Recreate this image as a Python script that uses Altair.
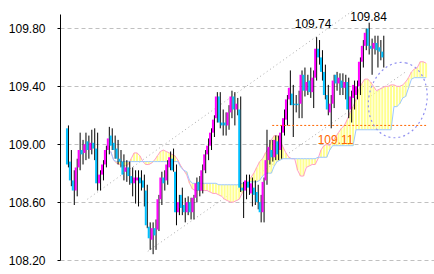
import altair as alt
import pandas as pd

# ---- candle data (index, OHLC) ----
opens = [109.11, 108.88, 108.75, 108.68, 108.84, 108.96, 108.94, 109.02, 108.96, 109.01,
         108.97, 108.73, 108.79, 108.86, 108.96, 109.06, 109.01, 108.97, 108.90, 108.88,
         108.81, 108.84, 108.78, 108.73, 108.75, 108.77, 108.75, 108.68, 108.43, 108.34,
         108.42, 108.41, 108.62, 108.77, 108.75, 108.84, 108.90, 108.81, 108.53, 108.65,
         108.58, 108.53, 108.60, 108.53, 108.63, 108.74, 108.68, 108.82, 108.93, 108.99,
         109.08, 109.18, 109.33, 109.15, 109.15, 109.13, 109.22, 109.33, 109.24, 109.24,
         108.70, 108.68, 108.74, 108.66, 108.70, 108.67, 108.60, 108.53, 108.75, 108.89,
         108.96, 108.91, 109.02, 108.96, 109.08, 109.17, 109.31, 109.35, 109.28, 109.28,
         109.28, 109.48, 109.37, 109.44, 109.36, 109.46, 109.66, 109.60, 109.50, 109.34,
         109.22, 109.28, 109.48, 109.42, 109.44, 109.39, 109.43, 109.24, 109.32, 109.34,
         109.40, 109.57, 109.68, 109.80, 109.68, 109.66, 109.70, 109.67, 109.64]
highs = [109.13, 108.96, 108.82, 108.90, 109.08, 109.03, 109.08, 109.06, 109.10, 109.11,
         109.08, 108.82, 108.89, 108.99, 109.12, 109.11, 109.06, 109.03, 108.96, 108.93,
         108.89, 108.88, 108.84, 108.82, 108.82, 108.82, 108.79, 108.72, 108.46, 108.46,
         108.48, 108.65, 108.81, 108.82, 108.89, 108.95, 108.97, 108.86, 108.65, 108.70,
         108.63, 108.64, 108.63, 108.65, 108.77, 108.78, 108.86, 108.96, 109.04, 109.11,
         109.20, 109.36, 109.36, 109.24, 109.22, 109.27, 109.37, 109.36, 109.32, 109.33,
         108.74, 108.79, 108.79, 108.77, 108.75, 108.72, 108.65, 108.77, 109.10, 109.03,
         109.03, 109.06, 109.06, 109.13, 109.24, 109.34, 109.51, 109.41, 109.34, 109.37,
         109.51, 109.53, 109.48, 109.53, 109.51, 109.74, 109.72, 109.65, 109.55, 109.41,
         109.34, 109.48, 109.50, 109.49, 109.49, 109.48, 109.46, 109.37, 109.44, 109.44,
         109.60, 109.72, 109.80, 109.84, 109.73, 109.75, 109.75, 109.72, 109.75]
lows = [108.84, 108.71, 108.58, 108.64, 108.82, 108.86, 108.89, 108.90, 108.93, 108.89,
        108.68, 108.68, 108.75, 108.84, 108.93, 108.96, 108.90, 108.86, 108.84, 108.75,
        108.74, 108.72, 108.64, 108.59, 108.57, 108.68, 108.57, 108.42, 108.27, 108.24,
        108.27, 108.40, 108.58, 108.68, 108.72, 108.82, 108.81, 108.44, 108.51, 108.51,
        108.46, 108.51, 108.48, 108.48, 108.60, 108.64, 108.66, 108.80, 108.89, 108.96,
        109.05, 109.15, 109.11, 109.06, 109.06, 109.10, 109.18, 109.13, 109.20, 108.67,
        108.49, 108.62, 108.65, 108.57, 108.58, 108.55, 108.46, 108.46, 108.72, 108.86,
        108.88, 108.89, 108.89, 108.90, 109.06, 109.13, 109.27, 109.05, 109.22, 109.18,
        109.18, 109.33, 109.34, 109.32, 109.25, 109.44, 109.55, 109.44, 109.31, 109.20,
        109.11, 109.25, 109.37, 109.34, 109.34, 109.31, 109.18, 109.15, 109.24, 109.31,
        109.34, 109.53, 109.65, 109.62, 109.48, 109.62, 109.53, 109.58, 109.53]
closes = [108.86, 108.75, 108.68, 108.84, 108.96, 108.93, 109.00, 108.96, 109.01, 108.97,
          108.73, 108.79, 108.86, 108.96, 109.04, 108.99, 108.96, 108.90, 108.88, 108.79,
          108.84, 108.78, 108.73, 108.77, 108.77, 108.73, 108.70, 108.44, 108.35, 108.42,
          108.37, 108.62, 108.77, 108.73, 108.86, 108.91, 108.82, 108.53, 108.60, 108.56,
          108.53, 108.60, 108.53, 108.63, 108.73, 108.68, 108.82, 108.93, 108.99, 109.08,
          109.17, 109.33, 109.15, 109.13, 109.13, 109.22, 109.33, 109.24, 109.28, 108.70,
          108.68, 108.75, 108.70, 108.73, 108.65, 108.60, 108.53, 108.74, 108.89, 108.98,
          108.91, 109.03, 108.93, 109.08, 109.18, 109.31, 109.39, 109.27, 109.27, 109.27,
          109.48, 109.37, 109.43, 109.36, 109.46, 109.66, 109.60, 109.50, 109.34, 109.24,
          109.28, 109.44, 109.42, 109.46, 109.39, 109.43, 109.24, 109.33, 109.41, 109.40,
          109.57, 109.68, 109.77, 109.68, 109.66, 109.70, 109.65, 109.64, 109.60]

# ---- cloud (span A pink, span B blue), index 15..123 ----
cloud_start = 15
span_a = [108.95, 108.89, 108.87, 108.86, 108.85, 108.85, 108.86, 108.90, 108.94, 108.94,
          108.92, 108.88, 108.86, 108.86, 108.87, 108.89, 108.92, 108.95, 108.96, 108.95,
          108.94, 108.93, 108.92, 108.89, 108.85, 108.82, 108.79, 108.73, 108.69, 108.68,
          108.68, 108.68, 108.68, 108.68, 108.67, 108.66, 108.66, 108.65, 108.64, 108.62,
          108.61, 108.60, 108.60, 108.61, 108.62, 108.66, 108.70, 108.74, 108.77, 108.80,
          108.84, 108.88, 108.90, 108.94, 108.97, 109.03, 109.06, 109.06, 109.03, 108.98,
          108.94, 108.91, 108.90, 108.90, 108.82, 108.78, 108.78, 108.84, 108.85, 108.86,
          108.86, 108.90, 108.96, 108.99, 109.00, 108.99, 109.02, 109.05, 109.08, 109.11,
          109.13, 109.17, 109.22, 109.26, 109.31, 109.38, 109.42, 109.45, 109.45, 109.43,
          109.40, 109.37, 109.38, 109.39, 109.40, 109.40, 109.41, 109.41, 109.40, 109.40,
          109.41, 109.43, 109.46, 109.50, 109.52, 109.53, 109.57, 109.57, 109.56]
span_b = [108.95, 108.89, 108.88, 108.88, 108.88, 108.88, 108.88, 108.88, 108.88, 108.88,
          108.88, 108.88, 108.88, 108.88, 108.88, 108.88, 108.88, 108.88, 108.88, 108.88,
          108.88, 108.88, 108.88, 108.88, 108.84, 108.82, 108.81, 108.75, 108.73, 108.73,
          108.73, 108.73, 108.73, 108.73, 108.73, 108.73, 108.73, 108.72, 108.72, 108.72,
          108.72, 108.72, 108.72, 108.72, 108.72, 108.73, 108.73, 108.74, 108.74, 108.74,
          108.74, 108.75, 108.78, 108.80, 108.80, 108.80, 108.85, 108.88, 108.89, 108.90,
          108.90, 108.90, 108.90, 108.90, 108.90, 108.90, 108.90, 108.90, 108.90, 108.90,
          108.90, 108.91, 108.91, 108.91, 108.91, 108.96, 108.99, 108.99, 108.99, 108.99,
          108.99, 108.99, 108.99, 108.99, 109.10, 109.10, 109.10, 109.10, 109.10, 109.10,
          109.10, 109.10, 109.10, 109.10, 109.10, 109.10, 109.10, 109.26, 109.26, 109.28,
          109.32, 109.33, 109.39, 109.45, 109.46, 109.46, 109.46, 109.46, 109.46]

# ---- annotations ----
trend_names = ["upper", "upper", "lower", "lower"]
trend_i = [7.0, 97.7, 27.7, 116.0]
trend_p = [108.62, 109.92, 108.26, 109.50]
support_i = [70.3, 123.0]
support_p = [109.13, 109.13]
label_text = ["109.74", "109.84"]
label_i = [84.3, 103.3]
label_p = [109.833, 109.88]
support_label = "109.11"
support_label_i = 92.0
support_label_p = 109.03
ellipse_i = 113.3
ellipse_p = 109.305
y_ticks = [108.2, 108.6, 109.0, 109.4, 109.8]

UP = "#ff00ff"
DOWN = "#00c0ff"
FONT = "Liberation Sans Narrow, Arial Narrow, Liberation Sans"

candles = pd.DataFrame({"i": list(range(len(opens))), "open": opens, "high": highs,
                        "low": lows, "close": closes})
cloud = pd.DataFrame({"i": list(range(cloud_start, cloud_start + len(span_a))),
                      "a": span_a, "b": span_b})
trends = pd.DataFrame({"g": trend_names, "i": trend_i, "p": trend_p})
support = pd.DataFrame({"i": support_i, "p": support_p})
labels = pd.DataFrame({"t": label_text, "i": label_i, "p": label_p})
slabel = pd.DataFrame({"t": [support_label], "i": [support_label_i], "p": [support_label_p]})
ell = pd.DataFrame({"i": [ellipse_i], "p": [ellipse_p]})

xs = alt.Scale(domain=[-2 / 3, 124.0], nice=False, zero=False)
ys = alt.Scale(domain=[108.2, 109.9], nice=False, zero=False)
yaxis = alt.Axis(values=y_ticks, format=".2f", title=None)


def X(f="i"):
    return alt.X(f, type="quantitative", scale=xs, axis=None)


def Y(f):
    return alt.Y(f, type="quantitative", scale=ys, axis=yaxis)


trend_layer = alt.Chart(trends).mark_line(color="#aaaaaa", strokeDash=[1, 3], strokeWidth=1).encode(
    x=X(), y=Y("p"), detail="g:N")

hatch = alt.Chart(cloud).mark_rule(color="#ffff90", strokeWidth=2).encode(
    x=X(), y=Y("a"), y2="b")
line_a = alt.Chart(cloud).mark_line(color="#ff9cc8", strokeWidth=1).encode(x=X(), y=Y("a"))
line_b = alt.Chart(cloud).mark_line(color="#9cc8ff", strokeWidth=1).encode(x=X(), y=Y("b"))

color_cond = alt.when(alt.datum.close >= alt.datum.open).then(alt.value(UP)).otherwise(alt.value(DOWN))
wick = alt.Chart(candles).mark_rule(color="black", strokeWidth=1, xOffset=1.5).encode(
    x=X(), y=Y("low"), y2="high")
body = alt.Chart(candles).mark_bar(size=2).encode(
    x=X(), y=Y("open"), y2="close", color=color_cond)

support_line = alt.Chart(support).mark_line(color="#ff6600", strokeDash=[2, 2], strokeWidth=1).encode(
    x=X(), y=Y("p"))

ellipse_path = ("M 0 -1 C 0.4214 -1 0.763 -0.5523 0.763 0 C 0.763 0.5523 0.4214 1 0 1 "
                "C -0.4214 1 -0.763 0.5523 -0.763 0 C -0.763 -0.5523 -0.4214 -1 0 -1 Z")
ellipse = alt.Chart(ell).mark_point(shape=ellipse_path, size=5776, filled=False, opacity=1,
                                    color="#9090f0", strokeDash=[2, 3], strokeWidth=1.2,
                                    angle=12).encode(x=X(), y=Y("p"))

text_hi = alt.Chart(labels).mark_text(font=FONT, fontSize=12, color="black", align="center",
                                      baseline="middle").encode(x=X(), y=Y("p"), text="t:N")
text_sup = alt.Chart(slabel).mark_text(font=FONT, fontSize=12, color="#ff6600", align="center",
                                       baseline="middle").encode(x=X(), y=Y("p"), text="t:N")

chart = alt.layer(trend_layer, hatch, line_a, line_b, wick, body, support_line, ellipse,
                  text_hi, text_sup).properties(
    width=374, height=246,
    autosize=alt.AutoSizeParams(type="none"),
    padding={"left": 60, "top": 14, "right": 0, "bottom": 14},
).configure_view(stroke=None).configure_axisY(
    domainColor="black", domainWidth=1, tickColor="black", tickSize=3, labelPadding=12,
    labelFont=FONT, labelFontSize=12, labelColor="black",
    gridColor="#c0c0c0", gridDash=[4, 3], gridWidth=1,
)

chart.save("out.html", embed_options={"renderer": "svg", "actions": False})
